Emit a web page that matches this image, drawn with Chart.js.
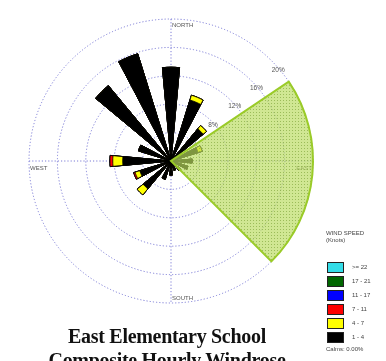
<!DOCTYPE html>
<html>
<head>
<meta charset="utf-8">
<script src="https://cdn.jsdelivr.net/npm/chart.js@4.4.1/dist/chart.umd.min.js"></script>
<style>
  html, body { margin: 0; padding: 0; background: #fff; width: 386px; height: 361px; overflow: hidden; }
  #wrap { position: relative; width: 386px; height: 361px; }
  canvas { position: absolute; left: 0; top: 0; }
  .title { position: absolute; left: 0; width: 334px; text-align: center; font-family: "Liberation Serif", "DejaVu Serif", serif; font-weight: bold; font-size: 20px; line-height: 24px; color: #111; white-space: nowrap; letter-spacing: -0.3px; }
  #legend { position: absolute; left: 326px; top: 230px; font-family: "Liberation Sans", Arial, sans-serif; font-size: 6px; color: #444; line-height: 7px; }
  #legend .row { position: relative; height: 14px; }
  #legend .box { position: absolute; left: 1px; top: 0; width: 15px; height: 9px; border: 1px solid #222; }
  #legend .lab { position: absolute; left: 26px; top: 2px; white-space: nowrap; }
</style>
</head>
<body>
<div id="wrap">
  <canvas id="c" width="386" height="361"></canvas>
  <div class="title" style="top:324px">East Elementary School</div>
  <div class="title" style="top:348px">Composite Hourly Windrose</div>
  <div id="legend"></div>
</div>
<script>
// ---- data (percent of hours, by direction and wind-speed class) ----
const directions = ['N','NNE','NE','ENE','E','ESE','SE','SSE','S','SSW','SW','WSW','W','WNW','NW','NNW'];
const speed1to4   = [13.2, 9.0, 5.9, 4.0, 3.0, 2.5, 1.7, 1.4, 2.0, 2.7, 5.1, 4.6, 6.8, 4.8, 13.8, 15.8];
const speed4to7   = [0.0, 0.7, 0.6, 0.6, 0.0, 0.0, 0.0, 0.0, 0.0, 0.0, 1.1, 0.7, 1.4, 0.0, 0.0, 0.0];
const speed7to11  = [0.0, 0.0, 0.0, 0.0, 0.0, 0.0, 0.0, 0.0, 0.0, 0.0, 0.0, 0.2, 0.4, 0.0, 0.0, 0.0];
const speed11to17 = [0, 0, 0, 0, 0, 0, 0, 0, 0, 0, 0, 0, 0, 0, 0, 0];
const speed17to21 = [0, 0, 0, 0, 0, 0, 0, 0, 0, 0, 0, 0, 0, 0, 0, 0];
const speed22up   = [0, 0, 0, 0, 0, 0, 0, 0, 0, 0, 0, 0, 0, 0, 0, 0];
const speedLabels = ['1 - 4', '4 - 7', '7 - 11', '11 - 17', '17 - 21', '>= 22'];
const ringTicks   = [4, 8, 12, 16, 20];
const compassLabels = ['NORTH', 'EAST', 'SOUTH', 'WEST'];
const calmsText = 'Calms: 0.00%';
// highlighted sector (degrees clockwise from north) and its radius (percent)
const sectorFrom = 56, sectorTo = 135, sectorValue = 20;

// ---- styles ----
const classColors = ['#000000', '#ffff00', '#ff0000', '#0000ff', '#006600', '#33dde8'];
const petalWidth = 10.5;             // degrees
const gapWidth = 360 / directions.length - petalWidth;

// ---- build library tables ----
const classes = [speed1to4, speed4to7, speed7to11, speed11to17, speed17to21, speed22up];
const cumulative = classes.map((_, k) =>
  directions.map((d, i) => classes.slice(0, k + 1).reduce((s, a) => s + a[i], 0)));
function interleave(arr) { const out = []; arr.forEach(v => { out.push(v); out.push(0); }); return out; }
const labels = [];
directions.forEach(d => { labels.push(d); labels.push(''); });

const startAngle = -petalWidth / 2;

// dotted fill pattern for the highlighted sector
function makePattern() {
  const p = document.createElement('canvas');
  p.width = 3; p.height = 3;
  const g = p.getContext('2d');
  g.fillStyle = 'rgba(186,220,96,0.68)';
  g.fillRect(0, 0, 3, 3);
  g.fillStyle = 'rgba(120,160,50,0.6)';
  g.fillRect(1, 1, 1, 1);
  return g.createPattern(p, 'repeat');
}

const sectorDataset = {
  label: 'sector',
  data: [0, sectorValue, 0],
  angle: [sectorFrom - startAngle, sectorTo - sectorFrom, 360 - (sectorTo - startAngle)],
  backgroundColor: makePattern(),
  borderColor: '#9acb28',
  borderWidth: [0, 2, 0],
  borderJoinStyle: 'miter'
};

const petalDatasets = cumulative.map((vals, k) => ({
  label: speedLabels[k],
  data: interleave(vals),
  angle: (ctx) => (ctx.dataIndex % 2 === 0 ? petalWidth : gapWidth),
  backgroundColor: classColors[k],
  borderColor: '#000',
  borderWidth: (ctx) => (ctx.raw > 0 ? 0.8 : 0)
}));

const gridColor = '#7d7dd6';

const overlayPlugin = {
  id: 'overlay',
  beforeDatasetsDraw(chart) {
    const s = chart.scales.r;
    const ctx = chart.ctx;
    const cx = s.xCenter, cy = s.yCenter, R = s.drawingArea;
    ctx.save();
    // cross hair lines
    ctx.strokeStyle = gridColor;
    ctx.lineWidth = 1;
    ctx.setLineDash([1.2, 2]);
    ctx.beginPath();
    ctx.moveTo(cx, cy - R); ctx.lineTo(cx, cy + R);
    ctx.moveTo(cx - R, cy); ctx.lineTo(cx + R, cy);
    ctx.stroke();
    ctx.setLineDash([]);
    // compass labels
    ctx.fillStyle = '#555';
    ctx.font = '6px "Liberation Sans", Arial, sans-serif';
    ctx.textBaseline = 'top';
    ctx.textAlign = 'left';
    ctx.fillText(compassLabels[0], cx + 1, cy - R + 3);
    ctx.textAlign = 'right';
    ctx.fillText(compassLabels[1], cx + R - 1, cy + 4);
    ctx.textAlign = 'left';
    ctx.textBaseline = 'bottom';
    ctx.fillText(compassLabels[2], cx + 1, cy + R - 2);
    ctx.textBaseline = 'top';
    ctx.fillText(compassLabels[3], cx - R + 1, cy + 4);
    // ring labels
    const a = 50 * Math.PI / 180;
    ctx.textAlign = 'center';
    ctx.textBaseline = 'middle';
    ctx.font = '6.5px "Liberation Sans", Arial, sans-serif';
    s.ticks.forEach(t => {
      if (!ringTicks.includes(t.value)) return;
      const r = s.getDistanceFromCenterForValue(t.value) - 2;
      const x = cx + r * Math.sin(a), y = cy - r * Math.cos(a) - 1;
      ctx.fillStyle = '#555';
      ctx.fillText(t.value + '%', x, y);
    });
    ctx.restore();
  }
};

new Chart(document.getElementById('c'), {
  type: 'polarArea',
  data: { labels: labels, datasets: [sectorDataset].concat(petalDatasets) },
  options: {
    responsive: false,
    animation: false,
    layout: { padding: { left: 29, top: 19, right: 73, bottom: 58 } },
    plugins: { legend: { display: false }, tooltip: { enabled: false } },
    scales: {
      r: {
        min: 0, max: 20,
        startAngle: startAngle,
        ticks: { stepSize: 4, display: false },
        grid: { circular: true, color: gridColor, lineWidth: 1 },
        border: { dash: [1.2, 2] },
        angleLines: { display: false },
        pointLabels: { display: false }
      }
    }
  },
  plugins: [overlayPlugin]
});

// ---- HTML legend ----
const lg = document.getElementById('legend');
let html = '<div style="height:13px">WIND SPEED<br>(Knots)</div><div style="height:19px"></div>';
for (let k = classes.length - 1; k >= 0; k--) {
  html += '<div class="row"><div class="box" style="background:' + classColors[k] + '"></div><div class="lab">' + speedLabels[k] + '</div></div>';
}
html += '<div>' + calmsText + '</div>';
lg.innerHTML = html;
</script>
</body>
</html>
